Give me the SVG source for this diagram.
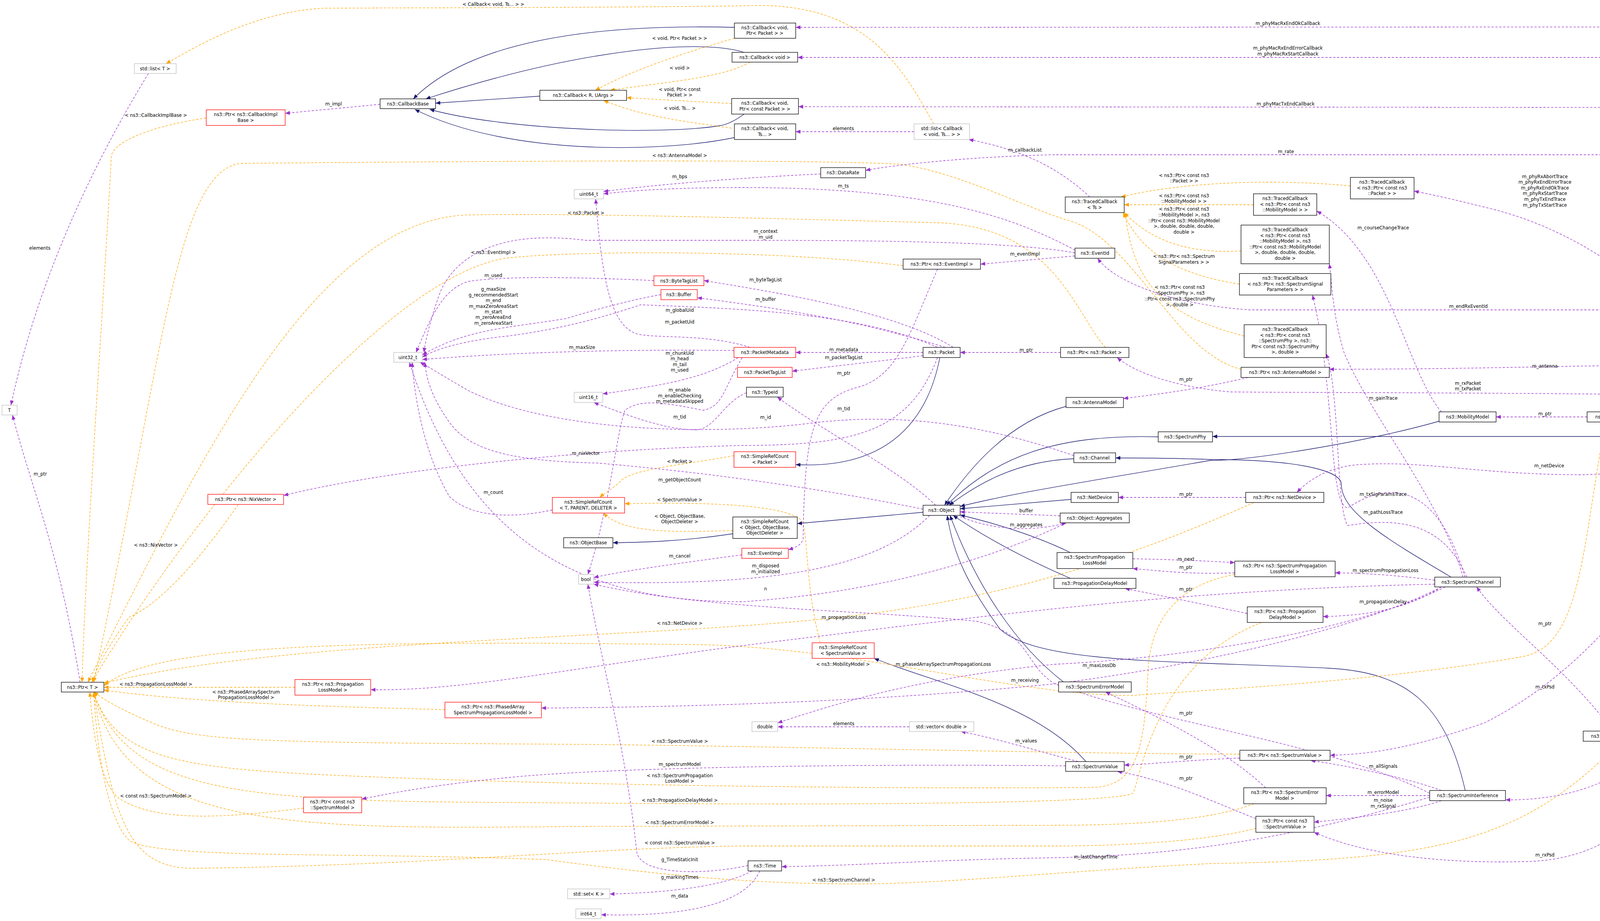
<svg xmlns="http://www.w3.org/2000/svg" width="4615" height="2357" viewBox="0 0 4615 2357">
<style>
text{font-family:"DejaVu Sans Condensed","Liberation Sans Narrow","Liberation Sans",sans-serif;font-size:13px;fill:#000;text-anchor:middle}
.n rect{fill:#fff;stroke:#000;stroke-width:1.3}
.r rect{fill:#fff;stroke:#f00;stroke-width:1.3}
.g rect{fill:#fff;stroke:#bfbfbf;stroke-width:1.3}
.h rect{fill:#bfbfbf;stroke:#000;stroke-width:1.3}
#edges path{fill:none;stroke-width:1.3}
.p{stroke:#9a32cd;stroke-dasharray:6,4;marker-end:url(#ap)}
.o{stroke:#ffa500;stroke-dasharray:6,4;marker-end:url(#ao)}
.v{stroke:#191970;marker-end:url(#av)}
</style>
<defs>
<marker id="ap" markerUnits="userSpaceOnUse" markerWidth="13" markerHeight="10" refX="12" refY="5" orient="auto"><path d="M0,0L12,5L0,10z" fill="#9a32cd"/></marker>
<marker id="ao" markerUnits="userSpaceOnUse" markerWidth="13" markerHeight="10" refX="12" refY="5" orient="auto"><path d="M0,0L12,5L0,10z" fill="#ffa500"/></marker>
<marker id="av" markerUnits="userSpaceOnUse" markerWidth="13" markerHeight="10" refX="12" refY="5" orient="auto"><path d="M0,0L12,5L0,10z" fill="#191970"/></marker>
</defs>
<rect width="4615" height="2357" fill="#fff"/>
<g id="edges">
<!-- inheritance -->
<path class="v" d="M1880,70 C1500,60 1200,110 1058,253"/>
<path class="v" d="M1905,134 C1800,100 1500,120 1090,253"/>
<path class="v" d="M1382,246 L1115,264"/>
<path class="v" d="M1905,292 C1880,310 1860,320 1840,322 C1700,345 1300,335 1100,280"/>
<path class="v" d="M1880,352 C1700,390 1300,400 1062,280"/>
<path class="v" d="M2406,915 C2370,1100 2250,1200 2037,1189"/>
<path class="v" d="M1876,1366 C1750,1385 1650,1388 1569,1389"/>
<path class="v" d="M2363,1311 L2041,1340"/>
<path class="v" d="M2729,1040 C2580,1080 2480,1200 2418,1293"/>
<path class="v" d="M2965,1118 C2700,1110 2550,1170 2423,1293"/>
<path class="v" d="M2749,1174 C2600,1180 2500,1240 2430,1293"/>
<path class="v" d="M2742,1278 L2458,1302"/>
<path class="v" d="M3684,1078 C3500,1130 3200,1180 3100,1178 C2800,1230 2600,1260 2458,1296"/>
<path class="v" d="M2740,1414 C2650,1370 2550,1340 2458,1318"/>
<path class="v" d="M2740,1480 C2600,1420 2500,1360 2440,1319"/>
<path class="v" d="M2722,1745 C2600,1650 2500,1500 2432,1319"/>
<path class="v" d="M3751,2023 C3700,1800 3600,1720 3400,1710 C3000,1690 2660,1700 2560,1610 C2480,1500 2440,1420 2425,1319"/>
<path class="v" d="M3715,1477 C3550,1380 3434,1310 3434,1240 C3434,1200 3300,1176 3100,1176 C3000,1172 2900,1172 2856,1172"/>
<path class="v" d="M4490,1036 C4400,1100 4300,1117 4200,1117 L3104,1117"/>
<path class="v" d="M2780,1949 C2650,1800 2400,1750 2238,1685"/>
<!-- template -->
<path class="o" d="M1880,98 C1700,150 1600,190 1524,231"/>
<path class="o" d="M1920,159 C1850,200 1700,210 1562,231"/>
<path class="o" d="M1873,265 L1604,250"/>
<path class="o" d="M1873,328 C1750,310 1650,300 1545,257"/>
<path class="o" d="M2390,317 C2300,150 2200,0 1900,15 C1500,20 1000,20 830,21 C650,30 500,120 425,163"/>
<path class="o" d="M528,302 C400,320 290,360 285,400 C270,700 220,1400 210,1746"/>
<path class="o" d="M610,1291 C500,1450 400,1550 330,1580 C280,1650 250,1700 236,1746"/>
<path class="o" d="M2312,680 C2000,640 1500,640 1300,660 C1000,700 500,1300 235,1746"/>
<path class="o" d="M2830,889 C2750,800 2700,580 2400,570 C2000,560 1500,545 1200,550 C800,560 500,1200 225,1746"/>
<path class="o" d="M3177,945 C3000,900 2900,600 2724,561 C2600,520 2450,440 2300,420 C2000,405 1000,415 620,418 C450,430 420,900 240,1746"/>
<path class="o" d="M3210,1286 C3000,1380 2700,1500 2300,1560 C1800,1640 800,1620 266,1748"/>
<path class="o" d="M4110,1080 C4050,1400 4050,1650 3900,1680 C3500,1750 3000,1770 2900,1780 C2600,1780 2200,1660 1800,1650 C1000,1640 400,1640 266,1755"/>
<path class="o" d="M755,1759 L266,1759"/>
<path class="o" d="M1139,1816 C900,1810 500,1800 266,1766"/>
<path class="o" d="M777,2068 C600,2090 400,2110 300,2040 C260,2000 240,1900 230,1771"/>
<path class="o" d="M3174,1930 C2800,1930 2000,1910 1500,1905 C700,1900 500,1900 390,1850 C320,1820 280,1800 240,1771"/>
<path class="o" d="M3161,1470 C3000,1500 2950,1600 2940,1700 C2930,1900 2920,2010 2800,2015 C2300,2020 1500,2010 1000,1990 C500,1970 300,1960 240,1771"/>
<path class="o" d="M3230,1593 C2950,1700 2920,2000 2900,2030 C2850,2060 2000,2060 1500,2055 C700,2050 330,2060 240,1771"/>
<path class="o" d="M3210,2057 C3100,2100 2900,2112 2700,2112 L1500,2115 C800,2120 320,2140 240,1771"/>
<path class="o" d="M3215,2120 C3100,2150 2900,2165 2700,2165 L1900,2165 C1500,2170 1100,2215 500,2222 C330,2225 290,2100 240,1771"/>
<path class="o" d="M4150,1897 C3900,2150 3700,2200 3100,2210 C2700,2230 2400,2265 2160,2262 C1900,2260 1700,2240 1400,2200 C900,2180 400,2200 330,2150 C280,2100 250,1950 240,1771"/>
<path class="o" d="M1879,1166 C1750,1190 1620,1200 1590,1230 C1570,1250 1550,1260 1535,1273"/>
<path class="o" d="M1876,1358 C1750,1360 1600,1370 1545,1313"/>
<path class="o" d="M2100,1645 C2060,1500 2070,1350 2050,1330 C2000,1290 1800,1285 1599,1289"/>
<path class="o" d="M3457,476 C3300,460 3050,460 2870,504"/>
<path class="o" d="M3209,524 L2878,524"/>
<path class="o" d="M3177,642 C3050,650 2950,620 2878,544"/>
<path class="o" d="M3173,727 C3000,700 2920,640 2875,544"/>
<path class="o" d="M3185,860 C2950,800 2900,700 2880,544"/>
<!-- usage -->
<path class="p" d="M973,267 L730,290"/>
<path class="p" d="M380,188 C250,400 100,700 28,1037"/>
<path class="p" d="M205,1746 C150,1400 80,1250 32,1062"/>
<path class="p" d="M2340,337 L2037,337"/>
<path class="p" d="M2790,504 C2700,420 2600,380 2480,357"/>
<path class="p" d="M2101,445 C1900,455 1700,470 1545,490"/>
<path class="p" d="M2752,640 C2600,560 2400,480 1900,480 C1700,480 1600,490 1545,496"/>
<path class="p" d="M2752,647 C2600,620 2300,615 1900,615 L1500,615 C1300,590 1180,640 1130,740 C1100,820 1090,870 1085,902"/>
<path class="p" d="M2752,655 L2510,676"/>
<path class="p" d="M2400,689 C2330,850 2300,960 2200,990 C2080,1020 2060,1100 2056,1380 C2050,1395 2040,1400 2018,1407"/>
<path class="p" d="M1674,718 C1500,710 1300,705 1200,720 C1130,740 1100,820 1065,902"/>
<path class="p" d="M1692,754 C1600,770 1500,800 1450,815 C1300,840 1200,840 1081,908"/>
<path class="p" d="M2440,889 C2300,800 2000,750 1802,718"/>
<path class="p" d="M2420,889 C2200,820 2000,790 1785,762"/>
<path class="p" d="M2400,889 C2200,800 1900,790 1640,780 C1550,810 1450,840 1300,860 C1200,870 1120,890 1081,914"/>
<path class="p" d="M1879,897 C1700,895 1400,895 1081,920"/>
<path class="p" d="M1890,915 C1800,970 1700,985 1543,1008"/>
<path class="p" d="M1920,889 C1800,850 1650,870 1620,850 C1560,820 1540,700 1525,509"/>
<path class="p" d="M1900,915 C1850,1000 1850,1040 1800,1050 C1700,1030 1640,1020 1600,1050 C1580,1100 1560,1300 1505,1470"/>
<path class="p" d="M2363,902 L2037,902"/>
<path class="p" d="M2363,910 C2250,925 2150,935 2028,950"/>
<path class="p" d="M2400,915 C2330,1100 2200,1140 1900,1140 C1500,1150 1000,1200 726,1268"/>
<path class="p" d="M2715,902 L2458,902"/>
<path class="p" d="M2395,1293 C2300,1200 2100,1100 1990,1016"/>
<path class="p" d="M1911,1005 C1850,1030 1830,1100 1780,1100 C1700,1100 1600,1060 1520,1030"/>
<path class="p" d="M2749,1166 C2500,1080 2300,1060 2100,1080 C1800,1120 1400,1100 1200,1000 C1130,960 1100,940 1075,927"/>
<path class="p" d="M1414,1305 C1300,1330 1200,1320 1150,1270 C1080,1150 1060,1000 1055,927"/>
<path class="p" d="M2363,1303 C2000,1230 1700,1200 1530,1185 C1300,1180 1200,1150 1150,1080 C1100,1010 1090,960 1088,927"/>
<path class="p" d="M2714,1320 L2458,1310"/>
<path class="p" d="M2458,1322 C2550,1360 2650,1360 2730,1338"/>
<path class="p" d="M1899,1420 C1750,1440 1600,1460 1520,1478"/>
<path class="p" d="M2380,1319 C2250,1450 2000,1500 1520,1490"/>
<path class="p" d="M2730,1338 C2500,1450 2200,1520 1900,1540 C1500,1540 1200,1400 1048,927"/>
<path class="p" d="M3660,2030 C3400,1900 3000,1860 2700,1750 C2620,1700 2640,1620 2500,1590 C2200,1560 1800,1560 1520,1495"/>
<path class="p" d="M1915,2215 C1800,2240 1640,2240 1630,2180 C1600,1900 1540,1700 1505,1495"/>
<path class="p" d="M1925,2229 C1850,2270 1700,2285 1561,2288"/>
<path class="p" d="M1945,2229 C1900,2330 1700,2345 1539,2341"/>
<path class="p" d="M3660,2040 C3300,2150 3000,2190 2700,2195 C2400,2200 2200,2215 2001,2218"/>
<path class="p" d="M4510,1010 C4480,500 4450,69 4200,69 L2037,70"/>
<path class="p" d="M4505,1010 C4470,500 4440,147 4200,147 L2042,147"/>
<path class="p" d="M4500,1010 C4460,550 4400,275 4200,275 L2044,273"/>
<path class="p" d="M4490,1010 C4420,700 4350,396 4190,396 L2700,396 C2500,400 2300,420 2216,436"/>
<path class="p" d="M4470,1010 C4300,800 4100,600 3800,530 C3700,505 3650,495 3620,489"/>
<path class="p" d="M4440,1010 C4400,850 4300,793 4200,793 L3200,793 C3000,780 2850,720 2810,661"/>
<path class="p" d="M4460,1010 C4400,900 4200,945 3403,945"/>
<path class="p" d="M4426,1015 C4200,1005 3300,1005 3150,1003 C3000,990 2900,950 2860,915"/>
<path class="p" d="M4426,1025 C4350,1040 4320,1045 4280,1054"/>
<path class="p" d="M4500,1036 C4400,1200 4200,1210 4050,1215 C3800,1215 3650,1180 3500,1188 C3400,1190 3350,1230 3320,1260"/>
<path class="p" d="M4490,1036 C4300,1400 4100,1700 3800,1850 C3600,1920 3500,1930 3405,1933"/>
<path class="p" d="M4480,1036 C4440,1500 4400,1900 4240,1897"/>
<path class="p" d="M4470,1036 C4450,1700 4300,2050 3854,2047"/>
<path class="p" d="M4460,1036 C4420,1800 4300,2200 3900,2205 C3700,2210 3500,2190 3364,2130"/>
<path class="p" d="M4495,1036 C4440,1800 4430,2320 4204,2300"/>
<path class="p" d="M4063,1067 L3830,1067"/>
<path class="p" d="M3690,1054 C3600,950 3560,650 3371,540"/>
<path class="p" d="M3745,1477 C3700,1300 3500,1050 3440,900 C3410,800 3410,720 3403,675"/>
<path class="p" d="M3750,1477 C3700,1300 3600,1200 3450,1300 C3400,1290 3420,1000 3360,755"/>
<path class="p" d="M3755,1477 C3700,1350 3600,1320 3450,1345 C3420,1300 3430,1000 3395,905"/>
<path class="p" d="M3189,1273 L2863,1273"/>
<path class="p" d="M3195,966 C3050,1000 2950,1010 2876,1020"/>
<path class="p" d="M2900,1430 C3000,1432 3100,1436 3161,1440"/>
<path class="p" d="M3161,1466 C3050,1470 2980,1462 2900,1455"/>
<path class="p" d="M3673,1485 C3600,1475 3500,1466 3418,1466"/>
<path class="p" d="M3690,1502 C3600,1560 3500,1575 3387,1578"/>
<path class="p" d="M3193,1570 C3050,1540 2950,1520 2880,1506"/>
<path class="p" d="M3673,1495 C3000,1510 2500,1580 2000,1640 C1500,1700 1200,1770 949,1765"/>
<path class="p" d="M3690,1502 C3500,1600 3100,1700 2700,1750 C2200,1800 1700,1810 1386,1812"/>
<path class="p" d="M3700,1502 C3500,1600 3100,1680 2700,1700 C2400,1730 2200,1780 1991,1850"/>
<path class="p" d="M4130,1871 C4000,1700 3850,1600 3780,1502"/>
<path class="p" d="M2328,1860 L1991,1860"/>
<path class="p" d="M2760,1949 C2650,1920 2550,1890 2460,1872"/>
<path class="p" d="M2728,1960 C2300,1955 1600,1960 1300,1990 C1100,2010 1000,2030 926,2045"/>
<path class="p" d="M3174,1940 C3050,1945 2950,1955 2878,1958"/>
<path class="p" d="M3215,2095 C3100,2050 3000,2000 2860,1974"/>
<path class="p" d="M3240,2016 C3150,1930 3000,1850 2830,1771"/>
<path class="p" d="M3690,2023 C3600,1990 3450,1960 3355,1946"/>
<path class="p" d="M3660,2036 L3395,2036"/>
<path class="p" d="M3690,2049 C3600,2080 3450,2095 3364,2104"/>
</g>
<g id="labels">
<text x="1263" y="15">&lt; Callback&lt; void, Ts... &gt; &gt;</text>
<text x="854" y="270">m_impl</text>
<text x="399" y="299">&lt; ns3::CallbackImplBase &gt;</text>
<text x="102" y="639">elements</text>
<text x="103" y="1217">m_ptr</text>
<text x="1740" y="102">&lt; void, Ptr&lt; Packet &gt; &gt;</text>
<text x="1740" y="178">&lt; void &gt;</text>
<text x="1740" y="233">&lt; void, Ptr&lt; const</text>
<text x="1740" y="247">Packet &gt; &gt;</text>
<text x="1740" y="281">&lt; void, Ts... &gt;</text>
<text x="2159" y="333">elements</text>
<text x="2624" y="388">m_callbackList</text>
<text x="1740" y="402">&lt; ns3::AntennaModel &gt;</text>
<text x="1740" y="456">m_bps</text>
<text x="2159" y="480">m_ts</text>
<text x="1500" y="549">&lt; ns3::Packet &gt;</text>
<text x="1960" y="596">m_context</text>
<text x="1960" y="611">m_uid</text>
<text x="1263" y="650">&lt; ns3::EventImpl &gt;</text>
<text x="2624" y="654">m_eventImpl</text>
<text x="1263" y="709">m_used</text>
<text x="1263" y="744">g_maxSize</text>
<text x="1263" y="759">g_recommendedStart</text>
<text x="1263" y="773">m_end</text>
<text x="1263" y="788">m_maxZeroAreaStart</text>
<text x="1263" y="802">m_start</text>
<text x="1263" y="816">m_zeroAreaEnd</text>
<text x="1263" y="831">m_zeroAreaStart</text>
<text x="1960" y="720">m_byteTagList</text>
<text x="1960" y="770">m_buffer</text>
<text x="1740" y="798">m_globalUid</text>
<text x="1740" y="828">m_packetUid</text>
<text x="1490" y="893">m_maxSize</text>
<text x="1740" y="908">m_chunkUid</text>
<text x="1740" y="922">m_head</text>
<text x="1740" y="937">m_tail</text>
<text x="1740" y="951">m_used</text>
<text x="2160" y="899">m_metadata</text>
<text x="2160" y="919">m_packetTagList</text>
<text x="2160" y="959">m_ptr</text>
<text x="2627" y="900">m_ptr</text>
<text x="1740" y="1002">m_enable</text>
<text x="1740" y="1017">m_enableChecking</text>
<text x="1740" y="1031">m_metadataSkipped</text>
<text x="1740" y="1071">m_tid</text>
<text x="1960" y="1072">m_id</text>
<text x="2160" y="1050">m_tid</text>
<text x="3036" y="975">m_ptr</text>
<text x="1500" y="1164">m_nixVector</text>
<text x="1740" y="1185">&lt; Packet &gt;</text>
<text x="1740" y="1232">m_getObjectCount</text>
<text x="1263" y="1264">m_count</text>
<text x="1740" y="1283">&lt; SpectrumValue &gt;</text>
<text x="1740" y="1325">&lt; Object, ObjectBase,</text>
<text x="1740" y="1339">ObjectDeleter &gt;</text>
<text x="399" y="1399">&lt; ns3::NixVector &gt;</text>
<text x="2627" y="1311">buffer</text>
<text x="2627" y="1347">m_aggregates</text>
<text x="3036" y="1269">m_ptr</text>
<text x="1740" y="1427">m_cancel</text>
<text x="1960" y="1452">m_disposed</text>
<text x="1960" y="1467">m_initialized</text>
<text x="1960" y="1511">n</text>
<text x="3036" y="1435">m_next</text>
<text x="3036" y="1456">m_ptr</text>
<text x="3036" y="1512">m_ptr</text>
<text x="2160" y="1584">m_propagationLoss</text>
<text x="1740" y="1599">&lt; ns3::NetDevice &gt;</text>
<text x="3297" y="64">m_phyMacRxEndOkCallback</text>
<text x="3297" y="127">m_phyMacRxEndErrorCallback</text>
<text x="3297" y="142">m_phyMacRxStartCallback</text>
<text x="3291" y="270">m_phyMacTxEndCallback</text>
<text x="3292" y="392">m_rate</text>
<text x="3031" y="453">&lt; ns3::Ptr&lt; const ns3</text>
<text x="3031" y="467">::Packet &gt; &gt;</text>
<text x="3031" y="505">&lt; ns3::Ptr&lt; const ns3</text>
<text x="3031" y="519">::MobilityModel &gt; &gt;</text>
<text x="3031" y="539">&lt; ns3::Ptr&lt; const ns3</text>
<text x="3031" y="554">::MobilityModel &gt;, ns3</text>
<text x="3031" y="569">::Ptr&lt; const ns3::MobilityModel</text>
<text x="3031" y="583">&gt;, double, double, double,</text>
<text x="3031" y="598">double &gt;</text>
<text x="3031" y="660">&lt; ns3::Ptr&lt; ns3::Spectrum</text>
<text x="3031" y="675">SignalParameters &gt; &gt;</text>
<text x="3020" y="739">&lt; ns3::Ptr&lt; const ns3</text>
<text x="3020" y="754">::SpectrumPhy &gt;, ns3</text>
<text x="3020" y="769">::Ptr&lt; const ns3::SpectrumPhy</text>
<text x="3020" y="784">&gt;, double &gt;</text>
<text x="3955" y="456">m_phyRxAbortTrace</text>
<text x="3955" y="470">m_phyRxEndErrorTrace</text>
<text x="3955" y="485">m_phyRxEndOkTrace</text>
<text x="3955" y="499">m_phyRxStartTrace</text>
<text x="3955" y="514">m_phyTxEndTrace</text>
<text x="3955" y="529">m_phyTxStartTrace</text>
<text x="3541" y="587">m_courseChangeTrace</text>
<text x="3759" y="788">m_endRxEventId</text>
<text x="3955" y="941">m_antenna</text>
<text x="3758" y="985">m_rxPacket</text>
<text x="3758" y="999">m_txPacket</text>
<text x="3541" y="1023">m_gainTrace</text>
<text x="4366" y="1035">m_mobility</text>
<text x="3955" y="1063">m_ptr</text>
<text x="3966" y="1196">m_netDevice</text>
<text x="3541" y="1269">m_txSigParamsTrace</text>
<text x="3541" y="1315">m_pathLossTrace</text>
<text x="3547" y="1464">m_spectrumPropagationLoss</text>
<text x="3541" y="1544">m_propagationDelay</text>
<text x="3955" y="1600">m_ptr</text>
<text x="399" y="1755">&lt; ns3::PropagationLossModel &gt;</text>
<text x="630" y="1775">&lt; ns3::PhasedArraySpectrum</text>
<text x="630" y="1789">PropagationLossModel &gt;</text>
<text x="399" y="2041">&lt; const ns3::SpectrumModel &gt;</text>
<text x="2158" y="1704">&lt; ns3::MobilityModel &gt;</text>
<text x="2415" y="1704">m_phasedArraySpectrumPropagationLoss</text>
<text x="2814" y="1707">m_maxLossDb</text>
<text x="2624" y="1745">m_receiving</text>
<text x="3036" y="1829">m_ptr</text>
<text x="2160" y="1856">elements</text>
<text x="1740" y="1901">&lt; ns3::SpectrumValue &gt;</text>
<text x="2627" y="1900">m_values</text>
<text x="3036" y="1941">m_ptr</text>
<text x="1740" y="1960">m_spectrumModel</text>
<text x="1740" y="1989">&lt; ns3::SpectrumPropagation</text>
<text x="1740" y="2003">LossModel &gt;</text>
<text x="3036" y="1996">m_ptr</text>
<text x="1740" y="2052">&lt; ns3::PropagationDelayModel &gt;</text>
<text x="1740" y="2109">&lt; ns3::SpectrumErrorModel &gt;</text>
<text x="1740" y="2161">&lt; const ns3::SpectrumValue &gt;</text>
<text x="1740" y="2204">g_TimeStaticInit</text>
<text x="2805" y="2197">m_lastChangeTime</text>
<text x="1740" y="2249">g_markingTimes</text>
<text x="2160" y="2256">&lt; ns3::SpectrumChannel &gt;</text>
<text x="1740" y="2297">m_data</text>
<text x="3955" y="1762">m_txPsd</text>
<text x="4364" y="1863">m_channel</text>
<text x="3541" y="1965">m_allSignals</text>
<text x="4187" y="1979">m_interference</text>
<text x="3541" y="2032">m_errorModel</text>
<text x="3541" y="2052">m_noise</text>
<text x="3541" y="2067">m_rxSignal</text>
<text x="3955" y="2192">m_rxPsd</text>
<text x="4364" y="2273">m_state</text>
</g>
<g id="n1" class="g"><rect x="344" y="163" width="107" height="25"/><text x="397" y="180">std::list&lt; T &gt;</text></g>
<g id="n2" class="r"><rect x="528" y="281" width="202" height="40"/><text x="629" y="297">ns3::Ptr&lt; ns3::CallbackImpl</text><text x="629" y="312">Base &gt;</text></g>
<g id="n3" class="n"><rect x="973" y="253" width="142" height="25"/><text x="1044" y="270">ns3::CallbackBase</text></g>
<g id="n4" class="n"><rect x="1880" y="59" width="157" height="39"/><text x="1958" y="75">ns3::Callback&lt; void,</text><text x="1958" y="89">Ptr&lt; Packet &gt; &gt;</text></g>
<g id="n5" class="n"><rect x="1874" y="134" width="168" height="25"/><text x="1958" y="151">ns3::Callback&lt; void &gt;</text></g>
<g id="n6" class="n"><rect x="1382" y="231" width="222" height="26"/><text x="1493" y="248">ns3::Callback&lt; R, UArgs &gt;</text></g>
<g id="n7" class="n"><rect x="1873" y="252" width="171" height="40"/><text x="1958" y="268">ns3::Callback&lt; void,</text><text x="1958" y="283">Ptr&lt; const Packet &gt; &gt;</text></g>
<g id="n8" class="n"><rect x="1880" y="317" width="157" height="40"/><text x="1958" y="333">ns3::Callback&lt; void,</text><text x="1958" y="348">Ts... &gt;</text></g>
<g id="n9" class="g"><rect x="2340" y="317" width="142" height="40"/><text x="2411" y="333">std::list&lt; Callback</text><text x="2411" y="348">&lt; void, Ts... &gt; &gt;</text></g>
<g id="n10" class="n"><rect x="2101" y="429" width="115" height="26"/><text x="2158" y="446">ns3::DataRate</text></g>
<g id="n11" class="g"><rect x="1470" y="485" width="75" height="24"/><text x="1507" y="501">uint64_t</text></g>
<g id="n12" class="n"><rect x="2727" y="504" width="151" height="40"/><text x="2802" y="520">ns3::TracedCallback</text><text x="2802" y="535">&lt; Ts &gt;</text></g>
<g id="n13" class="n"><rect x="2752" y="635" width="102" height="26"/><text x="2803" y="652">ns3::EventId</text></g>
<g id="n14" class="n"><rect x="2312" y="663" width="198" height="26"/><text x="2411" y="680">ns3::Ptr&lt; ns3::EventImpl &gt;</text></g>
<g id="n15" class="r"><rect x="1674" y="706" width="128" height="25"/><text x="1738" y="723">ns3::ByteTagList</text></g>
<g id="n16" class="r"><rect x="1692" y="741" width="93" height="26"/><text x="1738" y="758">ns3::Buffer</text></g>
<g id="n17" class="n"><rect x="3457" y="454" width="163" height="55"/><text x="3538" y="470">ns3::TracedCallback</text><text x="3538" y="485">&lt; ns3::Ptr&lt; const ns3</text><text x="3538" y="499">::Packet &gt; &gt;</text></g>
<g id="n18" class="n"><rect x="3209" y="496" width="162" height="55"/><text x="3290" y="512">ns3::TracedCallback</text><text x="3290" y="527">&lt; ns3::Ptr&lt; const ns3</text><text x="3290" y="541">::MobilityModel &gt; &gt;</text></g>
<g id="n19" class="n"><rect x="3177" y="576" width="226" height="99"/><text x="3290" y="592">ns3::TracedCallback</text><text x="3290" y="607">&lt; ns3::Ptr&lt; const ns3</text><text x="3290" y="621">::MobilityModel &gt;, ns3</text><text x="3290" y="636">::Ptr&lt; const ns3::MobilityModel</text><text x="3290" y="650">&gt;, double, double, double,</text><text x="3290" y="665">double &gt;</text></g>
<g id="n20" class="n"><rect x="3173" y="700" width="234" height="55"/><text x="3290" y="716">ns3::TracedCallback</text><text x="3290" y="731">&lt; ns3::Ptr&lt; ns3::SpectrumSignal</text><text x="3290" y="745">Parameters &gt; &gt;</text></g>
<g id="n21" class="n"><rect x="3185" y="831" width="210" height="84"/><text x="3290" y="847">ns3::TracedCallback</text><text x="3290" y="862">&lt; ns3::Ptr&lt; const ns3</text><text x="3290" y="876">::SpectrumPhy &gt;, ns3::</text><text x="3290" y="891">Ptr&lt; const ns3::SpectrumPhy</text><text x="3290" y="905">&gt;, double &gt;</text></g>
<g id="n22" class="n"><rect x="3177" y="940" width="226" height="26"/><text x="3290" y="957">ns3::Ptr&lt; ns3::AntennaModel &gt;</text></g>
<g id="n23" class="h"><rect x="4426" y="1010" width="183" height="26"/><text x="4517" y="1027">ns3::HalfDuplexIdealPhy</text></g>
<g id="n24" class="n"><rect x="3684" y="1054" width="146" height="26"/><text x="3757" y="1071">ns3::MobilityModel</text></g>
<g id="n25" class="n"><rect x="4063" y="1054" width="225" height="26"/><text x="4175" y="1071">ns3::Ptr&lt; ns3::MobilityModel &gt;</text></g>
<g id="n26" class="g"><rect x="1008" y="902" width="73" height="25"/><text x="1044" y="919">uint32_t</text></g>
<g id="n27" class="g"><rect x="5" y="1037" width="39" height="25"/><text x="24" y="1054">T</text></g>
<g id="n28" class="r"><rect x="532" y="1265" width="194" height="26"/><text x="629" y="1282">ns3::Ptr&lt; ns3::NixVector &gt;</text></g>
<g id="n29" class="r"><rect x="1414" y="1273" width="185" height="40"/><text x="1506" y="1289">ns3::SimpleRefCount</text><text x="1506" y="1304">&lt; T, PARENT, DELETER &gt;</text></g>
<g id="n30" class="n"><rect x="1443" y="1376" width="126" height="26"/><text x="1506" y="1393">ns3::ObjectBase</text></g>
<g id="n31" class="g"><rect x="1481" y="1470" width="39" height="25"/><text x="1500" y="1487">bool</text></g>
<g id="n32" class="g"><rect x="1470" y="1004" width="73" height="26"/><text x="1506" y="1021">uint16_t</text></g>
<g id="n33" class="r"><rect x="1879" y="889" width="158" height="26"/><text x="1958" y="906">ns3::PacketMetadata</text></g>
<g id="n34" class="n"><rect x="2363" y="889" width="95" height="26"/><text x="2410" y="906">ns3::Packet</text></g>
<g id="n35" class="n"><rect x="2715" y="889" width="175" height="26"/><text x="2802" y="906">ns3::Ptr&lt; ns3::Packet &gt;</text></g>
<g id="n36" class="r"><rect x="1888" y="940" width="140" height="26"/><text x="1958" y="957">ns3::PacketTagList</text></g>
<g id="n37" class="n"><rect x="1911" y="991" width="94" height="25"/><text x="1958" y="1008">ns3::TypeId</text></g>
<g id="n38" class="n"><rect x="2729" y="1017" width="147" height="26"/><text x="2802" y="1034">ns3::AntennaModel</text></g>
<g id="n39" class="n"><rect x="2965" y="1105" width="139" height="26"/><text x="3034" y="1122">ns3::SpectrumPhy</text></g>
<g id="n40" class="r"><rect x="1879" y="1156" width="158" height="40"/><text x="1958" y="1172">ns3::SimpleRefCount</text><text x="1958" y="1187">&lt; Packet &gt;</text></g>
<g id="n41" class="n"><rect x="2749" y="1159" width="107" height="25"/><text x="2802" y="1176">ns3::Channel</text></g>
<g id="n42" class="n"><rect x="2742" y="1260" width="121" height="26"/><text x="2802" y="1277">ns3::NetDevice</text></g>
<g id="n43" class="n"><rect x="2363" y="1293" width="95" height="26"/><text x="2410" y="1310">ns3::Object</text></g>
<g id="n44" class="n"><rect x="2714" y="1313" width="177" height="25"/><text x="2802" y="1330">ns3::Object::Aggregates</text></g>
<g id="n45" class="n"><rect x="1876" y="1323" width="165" height="55"/><text x="1958" y="1339">ns3::SimpleRefCount</text><text x="1958" y="1354">&lt; Object, ObjectBase,</text><text x="1958" y="1368">ObjectDeleter &gt;</text></g>
<g id="n46" class="r"><rect x="1899" y="1403" width="119" height="26"/><text x="1958" y="1420">ns3::EventImpl</text></g>
<g id="n47" class="n"><rect x="2706" y="1414" width="194" height="41"/><text x="2802" y="1430">ns3::SpectrumPropagation</text><text x="2802" y="1445">LossModel</text></g>
<g id="n48" class="n"><rect x="2698" y="1480" width="210" height="26"/><text x="2802" y="1497">ns3::PropagationDelayModel</text></g>
<g id="n49" class="n"><rect x="3189" y="1260" width="200" height="26"/><text x="3289" y="1277">ns3::Ptr&lt; ns3::NetDevice &gt;</text></g>
<g id="n50" class="n"><rect x="3161" y="1436" width="257" height="40"/><text x="3289" y="1452">ns3::Ptr&lt; ns3::SpectrumPropagation</text><text x="3289" y="1467">LossModel &gt;</text></g>
<g id="n51" class="n"><rect x="3673" y="1477" width="168" height="25"/><text x="3757" y="1494">ns3::SpectrumChannel</text></g>
<g id="n52" class="n"><rect x="3193" y="1553" width="194" height="40"/><text x="3290" y="1569">ns3::Ptr&lt; ns3::Propagation</text><text x="3290" y="1584">DelayModel &gt;</text></g>
<g id="n53" class="n"><rect x="157" y="1746" width="109" height="25"/><text x="211" y="1763">ns3::Ptr&lt; T &gt;</text></g>
<g id="n54" class="r"><rect x="755" y="1739" width="194" height="40"/><text x="852" y="1755">ns3::Ptr&lt; ns3::Propagation</text><text x="852" y="1770">LossModel &gt;</text></g>
<g id="n55" class="r"><rect x="1139" y="1797" width="247" height="40"/><text x="1262" y="1813">ns3::Ptr&lt; ns3::PhasedArray</text><text x="1262" y="1828">SpectrumPropagationLossModel &gt;</text></g>
<g id="n56" class="r"><rect x="777" y="2040" width="149" height="40"/><text x="851" y="2056">ns3::Ptr&lt; const ns3</text><text x="851" y="2071">::SpectrumModel &gt;</text></g>
<g id="n57" class="g"><rect x="1453" y="2275" width="108" height="25"/><text x="1507" y="2292">std::set&lt; K &gt;</text></g>
<g id="n58" class="g"><rect x="1474" y="2326" width="65" height="25"/><text x="1506" y="2343">int64_t</text></g>
<g id="n59" class="r"><rect x="2079" y="1645" width="159" height="40"/><text x="2158" y="1661">ns3::SimpleRefCount</text><text x="2158" y="1676">&lt; SpectrumValue &gt;</text></g>
<g id="n60" class="n"><rect x="2710" y="1745" width="186" height="26"/><text x="2803" y="1762">ns3::SpectrumErrorModel</text></g>
<g id="n61" class="g"><rect x="1925" y="1847" width="66" height="25"/><text x="1958" y="1864">double</text></g>
<g id="n62" class="g"><rect x="2328" y="1847" width="165" height="25"/><text x="2410" y="1864">std::vector&lt; double &gt;</text></g>
<g id="n63" class="n"><rect x="2728" y="1949" width="150" height="25"/><text x="2803" y="1966">ns3::SpectrumValue</text></g>
<g id="n64" class="n"><rect x="1915" y="2203" width="86" height="26"/><text x="1958" y="2220">ns3::Time</text></g>
<g id="n65" class="n"><rect x="4053" y="1871" width="247" height="26"/><text x="4176" y="1888">ns3::Ptr&lt; ns3::SpectrumChannel &gt;</text></g>
<g id="n66" class="n"><rect x="3174" y="1920" width="231" height="26"/><text x="3289" y="1937">ns3::Ptr&lt; ns3::SpectrumValue &gt;</text></g>
<g id="n67" class="n"><rect x="3184" y="2016" width="211" height="41"/><text x="3289" y="2032">ns3::Ptr&lt; ns3::SpectrumError</text><text x="3289" y="2047">Model &gt;</text></g>
<g id="n68" class="n"><rect x="3660" y="2023" width="194" height="26"/><text x="3757" y="2040">ns3::SpectrumInterference</text></g>
<g id="n69" class="n"><rect x="3215" y="2089" width="149" height="41"/><text x="3289" y="2105">ns3::Ptr&lt; const ns3</text><text x="3289" y="2120">::SpectrumValue &gt;</text></g>
<g id="n70" class="g"><rect x="4149" y="2282" width="55" height="26"/><text x="4176" y="2299">State</text></g>
</svg>
